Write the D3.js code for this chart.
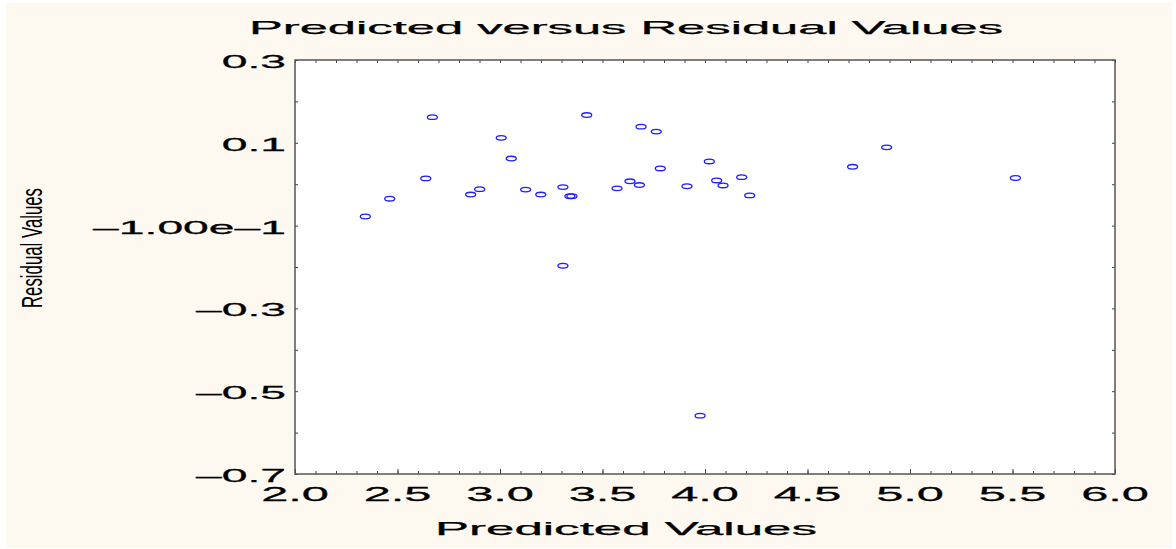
<!DOCTYPE html>
<html>
<head>
<meta charset="utf-8">
<script src="https://cdn.jsdelivr.net/npm/d3@7"></script>
<style>
  html, body { margin: 0; padding: 0; background: #ffffff; }
  svg { display: block; }
  text { font-family: "Liberation Sans", Arial, sans-serif; fill: #000; }
  .heavy { stroke: #000; stroke-width: 0.25px; }
</style>
</head>
<body>
<svg id="chart" width="1176" height="549"></svg>
<script>
// Predicted values (x) and residuals (y) for each observation
const predicted = [
  2.343, 2.462, 2.638, 2.670, 2.857, 2.901, 3.006, 3.055, 3.125, 3.199,
  3.307, 3.307, 3.341, 3.351, 3.423, 3.571, 3.634, 3.680, 3.688, 3.762,
  3.782, 3.912, 3.976, 4.021, 4.057, 4.088, 4.179, 4.218, 4.720, 4.886,
  5.514
];
const residuals = [
  -0.078, -0.035, 0.014, 0.162, -0.025, -0.012, 0.112, 0.062, -0.013, -0.025,
  -0.007, -0.197, -0.029, -0.029, 0.167, -0.010, 0.007, -0.002, 0.139, 0.127,
  0.038, -0.005, -0.559, 0.055, 0.009, -0.003, 0.017, -0.027, 0.042, 0.089,
  0.015
];

// Axis tick values and their printed labels
const xTickValues = [2.0, 2.5, 3.0, 3.5, 4.0, 4.5, 5.0, 5.5, 6.0];
const xTickLabels = ["2.0", "2.5", "3.0", "3.5", "4.0", "4.5", "5.0", "5.5", "6.0"];
const yTickValues = [0.3, 0.1, -0.1, -0.3, -0.5, -0.7];
const yTickLabels = ["0.3", "0.1", "–1.00e–1", "–0.3", "–0.5", "–0.7"];

const chartTitle = "Predicted versus Residual Values";
const xTitle = "Predicted Values";
const yTitle = "Residual Values";

const W = 1176, H = 549;
const plot = { left: 295, top: 60, right: 1115, bottom: 474 };
const stretch = 2.5;   // wide lettering used for the tick labels

const svg = d3.select("#chart");

// panel background
svg.append("rect")
  .attr("x", 6).attr("y", 3)
  .attr("width", 1166).attr("height", 545)
  .attr("fill", "#fdf9f0");

const x = d3.scaleLinear().domain([2.0, 6.0]).range([plot.left, plot.right]);
const y = d3.scaleLinear().domain([-0.7, 0.3]).range([plot.bottom, plot.top]);

// plotting area
svg.append("rect")
  .attr("x", plot.left).attr("y", plot.top)
  .attr("width", plot.right - plot.left).attr("height", plot.bottom - plot.top)
  .attr("fill", "#ffffff");

const minorX = d3.range(20, 61).map(d => d / 10);
const minorY = d3.range(-7, 4).map(d => d / 10);

function styleAxis(g) {
  g.select(".domain").remove();
  g.selectAll(".tick line").attr("stroke", "#444").attr("stroke-width", 1);
  g.selectAll(".tick text").remove();
}

// inward-pointing ticks on all four sides
svg.append("g").attr("transform", `translate(0,${plot.bottom})`)
  .call(d3.axisBottom(x).tickValues(minorX).tickSize(-3).tickFormat(""))
  .call(styleAxis);
svg.append("g").attr("transform", `translate(0,${plot.bottom})`)
  .call(d3.axisBottom(x).tickValues(xTickValues).tickSize(-5).tickFormat(""))
  .call(styleAxis);
svg.append("g").attr("transform", `translate(0,${plot.top})`)
  .call(d3.axisTop(x).tickValues(minorX).tickSize(-3).tickFormat(""))
  .call(styleAxis);
svg.append("g").attr("transform", `translate(${plot.left},0)`)
  .call(d3.axisLeft(y).tickValues(minorY).tickSize(-3).tickFormat(""))
  .call(styleAxis);
svg.append("g").attr("transform", `translate(${plot.right},0)`)
  .call(d3.axisRight(y).tickValues(minorY).tickSize(-3).tickFormat(""))
  .call(styleAxis);

// frame
svg.append("rect")
  .attr("x", plot.left).attr("y", plot.top)
  .attr("width", plot.right - plot.left).attr("height", plot.bottom - plot.top)
  .attr("fill", "none")
  .attr("stroke", "#555").attr("stroke-width", 1.5);

// tick labels
svg.append("g").selectAll("text")
  .data(xTickValues)
  .join("text")
  .attr("class", "heavy")
  .attr("transform", d => `translate(${x(d)},${plot.bottom + 27}) scale(${stretch},1)`)
  .attr("text-anchor", "middle")
  .attr("font-size", 19.5)
  .text((d, i) => xTickLabels[i]);

svg.append("g").selectAll("text")
  .data(yTickValues)
  .join("text")
  .attr("class", "heavy")
  .attr("transform", d => `translate(${plot.left - 9},${y(d) + 8}) scale(${stretch},1)`)
  .attr("text-anchor", "end")
  .attr("font-size", 18.5)
  .text((d, i) => yTickLabels[i]);

// titles
svg.append("text")
  .attr("class", "heavy")
  .attr("x", 249).attr("y", 33.5)
  .attr("font-size", 18.5)
  .attr("textLength", 754)
  .attr("lengthAdjust", "spacingAndGlyphs")
  .text(chartTitle);

svg.append("text")
  .attr("class", "heavy")
  .attr("x", 435).attr("y", 535)
  .attr("font-size", 18.5)
  .attr("textLength", 382)
  .attr("lengthAdjust", "spacingAndGlyphs")
  .text(xTitle);

svg.append("text")
  .attr("transform", "translate(41.5,308) rotate(-90)")
  .attr("font-size", 29)
  .attr("textLength", 120)
  .attr("lengthAdjust", "spacingAndGlyphs")
  .text(yTitle);

// observations
svg.append("g").selectAll("ellipse")
  .data(predicted.map((p, i) => ({ p, r: residuals[i] })))
  .join("ellipse")
  .attr("cx", d => x(d.p))
  .attr("cy", d => y(d.r))
  .attr("rx", 5)
  .attr("ry", 2.3)
  .attr("fill", "none")
  .attr("stroke", "#1f1fff")
  .attr("stroke-width", 1.3);
</script>
</body>
</html>
